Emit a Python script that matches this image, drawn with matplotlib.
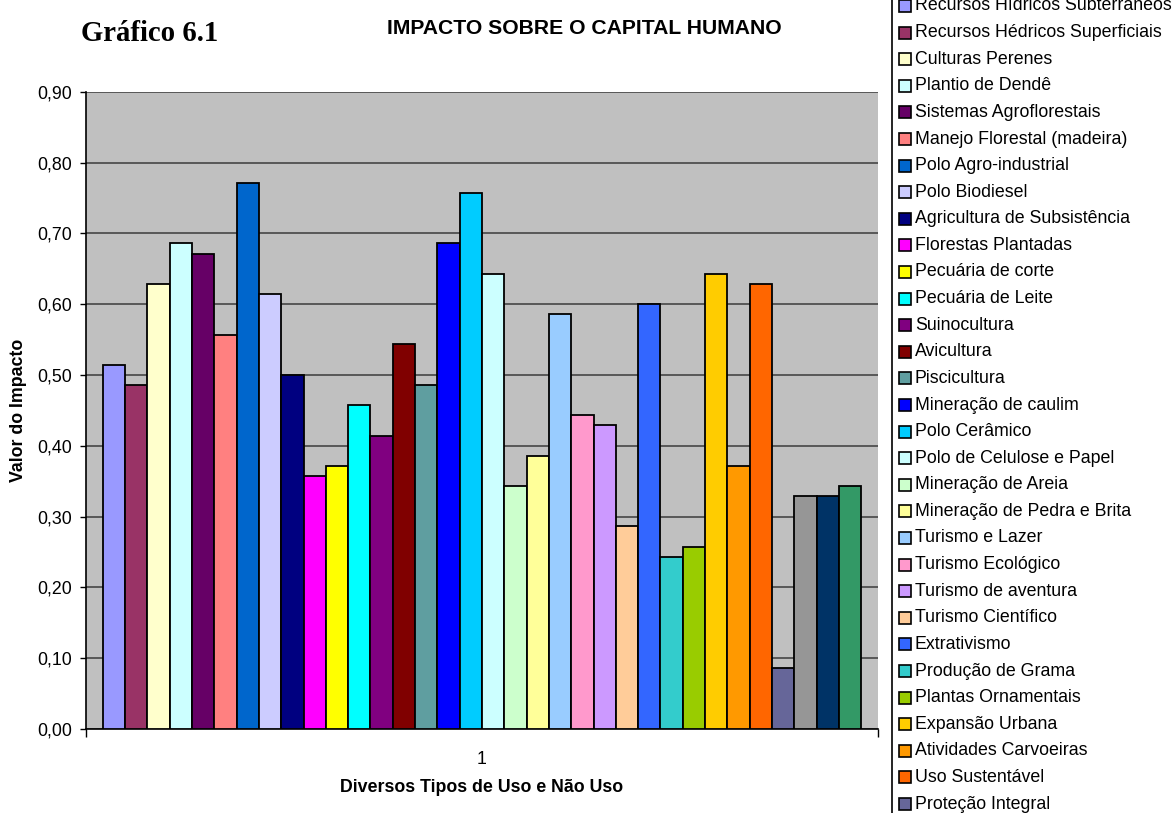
import matplotlib
matplotlib.use("Agg")
import matplotlib.pyplot as plt
from matplotlib.patches import Rectangle
from matplotlib.lines import Line2D

series_names = [
    "Recursos Hídricos Subterrâneos", "Recursos Hédricos Superficiais", "Culturas Perenes",
    "Plantio de Dendê", "Sistemas Agroflorestais", "Manejo Florestal (madeira)",
    "Polo Agro-industrial", "Polo Biodiesel", "Agricultura de Subsistência",
    "Florestas Plantadas", "Pecuária de corte", "Pecuária de Leite", "Suinocultura",
    "Avicultura", "Piscicultura", "Mineração de caulim", "Polo Cerâmico",
    "Polo de Celulose e Papel", "Mineração de Areia", "Mineração de Pedra e Brita",
    "Turismo e Lazer", "Turismo Ecológico", "Turismo de aventura", "Turismo Científico",
    "Extrativismo", "Produção de Grama", "Plantas Ornamentais", "Expansão Urbana",
    "Atividades Carvoeiras", "Uso Sustentável", "Proteção Integral",
    "Série 32", "Série 33", "Série 34",
]
values = [
    0.514, 0.486, 0.629, 0.686, 0.671, 0.557, 0.771, 0.614, 0.500,
    0.357, 0.371, 0.457, 0.414, 0.543, 0.486, 0.686, 0.757, 0.643,
    0.343, 0.386, 0.586, 0.443, 0.429, 0.286, 0.600, 0.243, 0.257,
    0.643, 0.371, 0.629, 0.086, 0.329, 0.329, 0.343,
]
colors = [
    "#9999FF", "#993366", "#FFFFCC", "#CCFFFF", "#660066", "#FF8080", "#0066CC",
    "#CCCCFF", "#000080", "#FF00FF", "#FFFF00", "#00FFFF", "#800080", "#800000",
    "#5F9EA0", "#0000FF", "#00CCFF", "#CCFFFF", "#CCFFCC", "#FFFF99", "#99CCFF",
    "#FF99CC", "#CC99FF", "#FFCC99", "#3366FF", "#33CCCC", "#99CC00", "#FFCC00",
    "#FF9900", "#FF6600", "#666699", "#969696", "#003366", "#339966",
]
yticks = [0.0, 0.1, 0.2, 0.3, 0.4, 0.5, 0.6, 0.7, 0.8, 0.9]
ytick_labels = ["0,00", "0,10", "0,20", "0,30", "0,40", "0,50", "0,60", "0,70", "0,80", "0,90"]
category_label = "1"

W, H = 1173, 813
fig = plt.figure(figsize=(W / 100, H / 100), dpi=100)
plt.rcParams['font.family'] = ['Liberation Sans', 'DejaVu Sans']

def fx(px):
    return px / W

def fy(py):
    return (H - py) / H

ax_l, ax_r, ax_t, ax_b = 86, 878, 91.7, 729
ax = fig.add_axes([fx(ax_l), fy(ax_b), fx(ax_r - ax_l), (ax_b - ax_t) / H])
ax.set_facecolor("#C0C0C0")

n = len(values)
bw = 1.0 / (n + 1.5)
xs = [0.75 * bw + (i + 0.5) * bw for i in range(n)]
bars = ax.bar(xs, values, width=bw, color=colors, edgecolor="black", linewidth=1.3, zorder=3)

ax.set_xlim(0, 1)
ax.set_ylim(0, 0.9)
ax.set_yticks(yticks)
ax.set_yticklabels(ytick_labels, fontsize=12.8)
ax.yaxis.grid(True, color="#505050", linewidth=1.3, zorder=1)
ax.set_axisbelow(True)
ax.tick_params(axis="y", length=4, width=1, pad=6, direction="out")
ax.set_xticks([0.5])
ax.set_xticklabels([category_label], fontsize=12.8)
ax.tick_params(axis="x", which="major", length=0, pad=16)
ax.set_xticks([0, 1], minor=True)
ax.tick_params(axis="x", which="minor", length=6, width=1)
for s in ["top", "right"]:
    ax.spines[s].set_visible(False)
ax.spines["left"].set_linewidth(1.2)
ax.spines["bottom"].set_linewidth(1.2)

fig.text(fx(482), fy(787), "Diversos Tipos de Uso e Não Uso", ha="center", va="center",
         fontsize=12.8, fontweight="bold")
fig.text(fx(19), fy(410), "Valor do Impacto", ha="center", va="center", rotation=90,
         fontsize=12.8, fontweight="bold")
fig.text(fx(81), fy(41), "Gráfico 6.1", ha="left", va="baseline",
         fontsize=20.7, fontweight="bold", family=["Liberation Serif", "DejaVu Serif"])
fig.text(fx(387), fy(34), "IMPACTO SOBRE O CAPITAL HUMANO", ha="left", va="baseline",
         fontsize=15.2, fontweight="bold")

# legend (box extends beyond the figure, as in the reference)
fig.add_artist(Line2D([fx(892), fx(892)], [0, 1], color="black", linewidth=1.2,
                      transform=fig.transFigure))
row0, dy = 6.0, 26.6
for i, (name, col) in enumerate(zip(series_names, colors)):
    yc = row0 + i * dy
    if yc > H + 20:
        break
    fig.add_artist(Rectangle((fx(898.5), fy(yc + 6)), fx(12), 12 / H, facecolor=col,
                             edgecolor="black", linewidth=1.2, transform=fig.transFigure))
    fig.text(fx(915), fy(yc), name, ha="left", va="center", fontsize=12.8)

fig.savefig("out.png", dpi=100)
